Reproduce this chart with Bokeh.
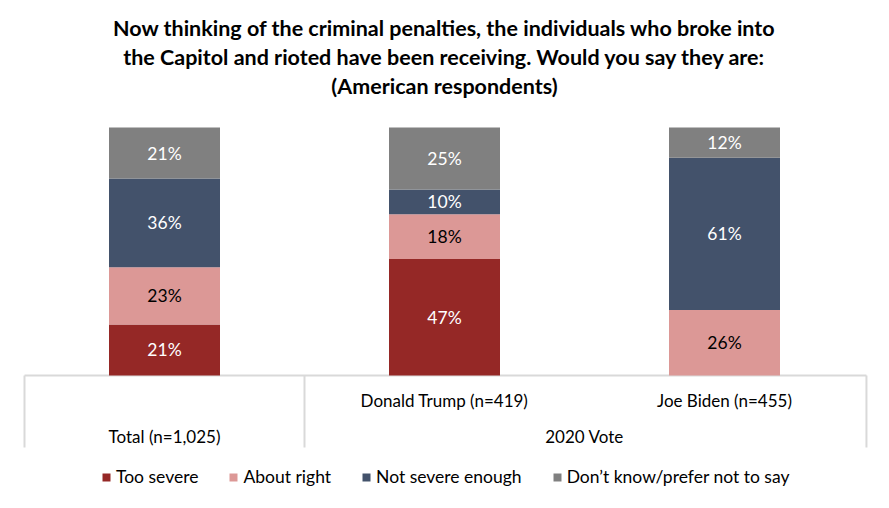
from bokeh.plotting import figure
from bokeh.models import ColumnDataSource, Range1d, Legend, LegendItem
from bokeh.core.properties import value
from bokeh.embed import file_html
from bokeh.resources import INLINE

# ---- data ----
groups = ["Total (n=1,025)", "Donald Trump (n=419)", "Joe Biden (n=455)"]
group_pos = [0.5, 1.5, 2.5]
too_severe = [20.6, 47.0, 0.0]
about_right = [23.0, 18.0, 26.4]
not_severe_enough = [35.8, 10.0, 61.4]
dont_know = [20.6, 25.0, 12.2]
series_names = ["Too severe", "About right", "Not severe enough", "Don\u2019t know/prefer not to say"]
colors = ["#952826", "#dc9896", "#43526b", "#808080"]
label_colors = ["#ffffff", "#000000", "#ffffff", "#ffffff"]
title_lines = [
    "Now thinking of the criminal penalties, the individuals who broke into",
    "the Capitol and rioted have been receiving. Would you say they are:",
    "(American respondents)",
]
upper_tier = ["", "Donald Trump (n=419)", "Joe Biden (n=455)"]
lower_tier = ["Total (n=1,025)", "2020 Vote"]
lower_tier_pos = [0.5, 2.0]

FONT = "Lato"
PXU = 2.48   # pixels per percentage point
PXC = 280.0  # pixels per category
W, H = 881, 500

keys = ["too_severe", "about_right", "not_severe_enough", "dont_know"]
src = ColumnDataSource(dict(x=group_pos, too_severe=too_severe, about_right=about_right,
                            not_severe_enough=not_severe_enough, dont_know=dont_know))

x0 = -24 / PXC
y1 = 375 / PXU
p = figure(width=W, height=H, output_backend="svg", toolbar_location=None,
           x_axis_type=None, y_axis_type=None, min_border=0,
           x_range=Range1d(x0, x0 + W / PXC),
           y_range=Range1d(y1 - H / PXU, y1))
p.outline_line_color = None
p.xgrid.visible = False
p.ygrid.visible = False
p.background_fill_color = "white"

# category frame lines
p.segment(x0=[0], y0=[0], x1=[3.007], y1=[0], line_color="#d9d9d9", line_width=2)
p.segment(x0=[0, 1, 3.007], y0=[0, 0, 0], x1=[0, 1, 3.007], y1=[-72 / PXU] * 3,
          line_color="#d9d9d9", line_width=2)

renderers = p.vbar_stack(keys, x="x", width=111 / PXC, source=src, color=colors, line_color=None)

# value labels
series = [too_severe, about_right, not_severe_enough, dont_know]
lx, ly, lt, lc = [], [], [], []
for gi, xp in enumerate(group_pos):
    base = 0.0
    for si, s in enumerate(series):
        v = s[gi]
        if v >= 1:
            lx.append(xp)
            ly.append(base + v / 2)
            lt.append(f"{round(v)}%")
            lc.append(label_colors[si])
        base += v
p.text(x=lx, y=ly, text=lt, text_color=lc, text_align="center", text_baseline="middle",
       text_font=value(FONT), text_font_size="17.5px")

# category labels
p.text(x=group_pos, y=[-25 / PXU] * 3, text=upper_tier, text_color="#000000",
       text_align="center", text_baseline="middle", text_font=value(FONT), text_font_size="17px")
p.text(x=lower_tier_pos, y=[-61 / PXU] * 2, text=lower_tier, text_color="#000000",
       text_align="center", text_baseline="middle", text_font=value(FONT), text_font_size="17px")

# title
p.text(x=[1.5] * 3, y=[(375 - 27) / PXU, (375 - 56) / PXU, (375 - 85) / PXU], text=title_lines,
       text_color="#000000", text_align="center", text_baseline="middle",
       text_font=value(FONT), text_font_size="21.5px", text_font_style="bold")

legend = Legend(items=[LegendItem(label=n, renderers=[r]) for n, r in zip(series_names, renderers)],
                orientation="horizontal", location=(101, 13), border_line_color=None,
                background_fill_alpha=0, padding=0, margin=0, spacing=30,
                glyph_width=10, glyph_height=10, label_standoff=5,
                label_text_font=FONT, label_text_font_size="17.5px", label_text_color="#000000")
p.add_layout(legend)

open("out.html", "w").write(file_html(p, INLINE))
